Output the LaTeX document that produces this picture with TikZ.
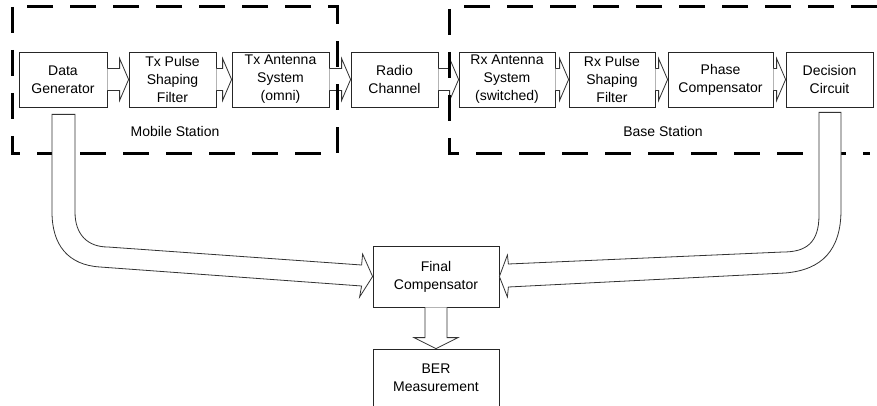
\documentclass[tikz,border=0pt]{standalone}
\usepackage{fontspec}
\setmainfont{Liberation Sans}
\usetikzlibrary{arrows,calc}
% horizontal block arrow between two boxes of the chain
\newcommand\BlockArrow[2]{%
    \draw[block arrow] ($(#1.east)+(0,-11)$) -- ($(#2.west)+(-9,-11)$)
        -- ($(#2.west)+(-9,-21)$) -- (#2.west) -- ($(#2.west)+(-9,21)$)
        -- ($(#2.west)+(-9,11)$) -- ($(#1.east)+(0,11)$);
}

\begin{document}
\begin{tikzpicture}[x=1pt,y=-1pt,
        %Option for the block diagram%
        font=\fontsize{14}{18}\selectfont,%
        box/.style={draw=black!85, line width=0.8pt, fill=white,
            align=center, inner sep=0pt, minimum height=55pt},%
        block arrow/.style={draw=black!80, line width=0.8pt, fill=white},%
        station/.style={line width=3pt, dash pattern=on 26pt off 17pt}%
    ]
    \useasboundingbox (0,0) rectangle (877,406);
    %% blocks of the chain
    \node[box, minimum width=88pt]  (DG)  at (63,79.5)    {Data\\Generator};
    \node[box, minimum width=87pt]  (TxF) at (172.5,79.5) {Tx Pulse\\Shaping\\Filter};
    \node[box, minimum width=97pt]  (TxA) at (280.5,79.5) {Tx Antenna\\System\\(omni)};
    \node[box, minimum width=87pt]  (Ch)  at (394.5,79.5) {Radio\\Channel};
    \node[box, minimum width=96pt]  (RxA) at (507,79.5)   {Rx Antenna\\System\\(switched)};
    \node[box, minimum width=86pt]  (RxF) at (612,79.5)   {Rx Pulse\\Shaping\\Filter};
    \node[box, minimum width=105pt] (PC)  at (720.5,79.5) {Phase\\Compensator};
    \node[box, minimum width=87pt]  (DC)  at (829.5,79.5) {Decision\\Circuit};
    %
    \node[box, minimum width=126pt, minimum height=61pt] (FC)  at (436,276.5) {Final\\Compensator};
    \node[box, minimum width=126pt, minimum height=57pt] (BER) at (436,377.5) {BER\\Measurement};
    %% block arrows along the chain
    \BlockArrow{DG}{TxF}
    \BlockArrow{TxF}{TxA}
    \BlockArrow{TxA}{Ch}
    \BlockArrow{Ch}{RxA}
    \BlockArrow{RxA}{RxF}
    \BlockArrow{RxF}{PC}
    \BlockArrow{PC}{DC}
    %% station frames
    \draw[station] (12,7) rectangle (337,154);
    \draw[station] (877,7) -| (449,154) -- (870,154);
    \node (MS) at (175,131) {Mobile Station};
    \node (BS) at (663,131) {Base Station};
    %% pipes into the final compensator
    \draw[block arrow] ($(DG.south)+(-11,7)$) -- ($(DG.south)+(12,7)$) -- (75,212)
        .. controls (75,235) and (88,247) .. (108,247)
        -- ($(FC.west)+(-11,-11.5)$) -- ($(FC.west)+(-10,-22.5)$) -- (FC.west)
        -- ($(FC.west)+(-13,20.5)$) -- ($(FC.west)+(-11,9.5)$) -- (100,267)
        .. controls (68,265) and (52,245) .. (52,212) -- cycle;
    \draw[block arrow] ($(DC.south)+(11.5,5)$) -- ($(DC.south)+(-10.5,5)$) -- (819,215)
        .. controls (819,243) and (806,252) .. (783,252)
        -- ($(FC.east)+(9,-12.5)$) -- ($(FC.east)+(8,-21.5)$) -- (FC.east)
        -- ($(FC.east)+(8,20.5)$) -- ($(FC.east)+(9,10.5)$) -- (785,273)
        .. controls (822,270) and (841,250) .. (841,210) -- cycle;
    %% output to the measurement
    \draw[block arrow] ($(FC.south)+(-11,0)$) -- ($(BER.north)+(-11,-11)$)
        -- ($(BER.north)+(-22,-11)$) -- (BER.north) -- ($(BER.north)+(22,-11)$)
        -- ($(BER.north)+(11,-11)$) -- ($(FC.south)+(11,0)$);
\end{tikzpicture}
\end{document}
